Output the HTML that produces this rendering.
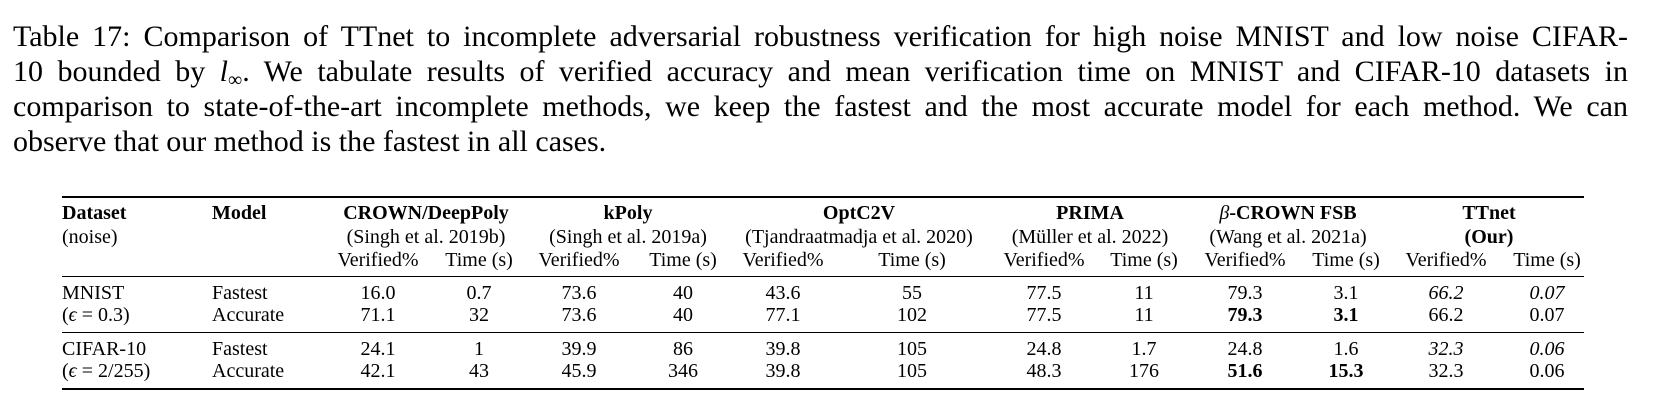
<!DOCTYPE html>
<html><head><meta charset="utf-8"><style>
html,body{margin:0;padding:0;background:#fff;}
body{width:1662px;height:414px;position:relative;overflow:hidden;font-family:"Liberation Serif",serif;color:#000;}
#cap{position:absolute;left:13px;top:19px;width:1615px;font-size:30px;line-height:35px;}
#cap div{height:35px;text-align:justify;text-align-last:justify;white-space:nowrap;}
#cap div.last{text-align-last:left;}
#cap sub{font-size:20px;line-height:0;vertical-align:-5px;}
.t{position:absolute;font-size:20px;line-height:22px;white-space:nowrap;transform:translate(-50%,-50%);}
.l{position:absolute;font-size:20px;line-height:22px;white-space:nowrap;transform:translate(0,-50%);}
.b{font-weight:bold;}.i{font-style:italic;}
.rule{position:absolute;left:62px;width:1522px;background:#000;}
</style></head><body>
<div id="cap">
<div style="white-space:normal">Table 17: Comparison of TTnet to incomplete adversarial robustness verification for high noise MNIST and low noise CIFAR-</div>
<div style="white-space:normal">10 bounded by <i>l</i><sub>∞</sub>. We tabulate results of verified accuracy and mean verification time on MNIST and CIFAR-10 datasets in</div>
<div style="white-space:normal">comparison to state-of-the-art incomplete methods, we keep the fastest and the most accurate model for each method. We can</div>
<div class="last">observe that our method is the fastest in all cases.</div>
</div>
<div class="rule" style="top:196px;height:2px"></div>
<div class="rule" style="top:276px;height:1px"></div>
<div class="rule" style="top:332px;height:1px"></div>
<div class="rule" style="top:388px;height:2px"></div>
<div id="tbl"></div>
<script>
const tbl=document.getElementById('tbl');
function put(cls,x,y,html,name){const d=document.createElement('div');d.className=cls;d.style.left=x+'px';d.style.top=y+'px';d.innerHTML=html;


tbl.appendChild(d);}
put('l b',62,213,'Dataset','dataset-header');
put('l',62,237,'(noise)','noise-header');
put('l b',212,213,'Model','model-header');
const groups=[[426,'CROWN/DeepPoly','(Singh et al. 2019b)'],[628,'kPoly','(Singh et al. 2019a)'],[859,'OptC2V','(Tjandraatmadja et al. 2020)'],[1090,'PRIMA','(Müller et al. 2022)'],[1288,'<i style="font-weight:normal">β</i>-CROWN FSB','(Wang et al. 2021a)'],[1489,'TTnet','<b>(Our)</b>']];
groups.forEach((g,i)=>{put('t b',g[0],213,g[1],'method-header-'+i);put('t',g[0],237,g[2],'method-citation-'+i);});
const cols=[378,479,579,683,783,912,1044,1144,1245,1346,1446,1547];
cols.forEach((x,i)=>put('t',x,260,i%2?'Time (s)':'Verified%','subheader-'+i));
const rowY=[293,315,349,371];
put('l',62,293,'MNIST','dataset-mnist');
put('l',62,315,'(<i>ϵ</i> = 0.3)','noise-mnist');
put('l',62,349,'CIFAR-10','dataset-cifar');
put('l',62,371,'(<i>ϵ</i> = 2/255)','noise-cifar');
['Fastest','Accurate','Fastest','Accurate'].forEach((m,r)=>put('l',212,rowY[r],m,'model-'+r));
const rows=[
['16.0','0.7','73.6','40','43.6','55','77.5','11','79.3','3.1','<i>66.2</i>','<i>0.07</i>'],
['71.1','32','73.6','40','77.1','102','77.5','11','<b>79.3</b>','<b>3.1</b>','66.2','0.07'],
['24.1','1','39.9','86','39.8','105','24.8','1.7','24.8','1.6','<i>32.3</i>','<i>0.06</i>'],
['42.1','43','45.9','346','39.8','105','48.3','176','<b>51.6</b>','<b>15.3</b>','32.3','0.06']];
rows.forEach((r,ri)=>r.forEach((v,ci)=>put('t',cols[ci],rowY[ri],v,'cell-r'+ri+'-c'+ci)));
</script>
</body></html>
